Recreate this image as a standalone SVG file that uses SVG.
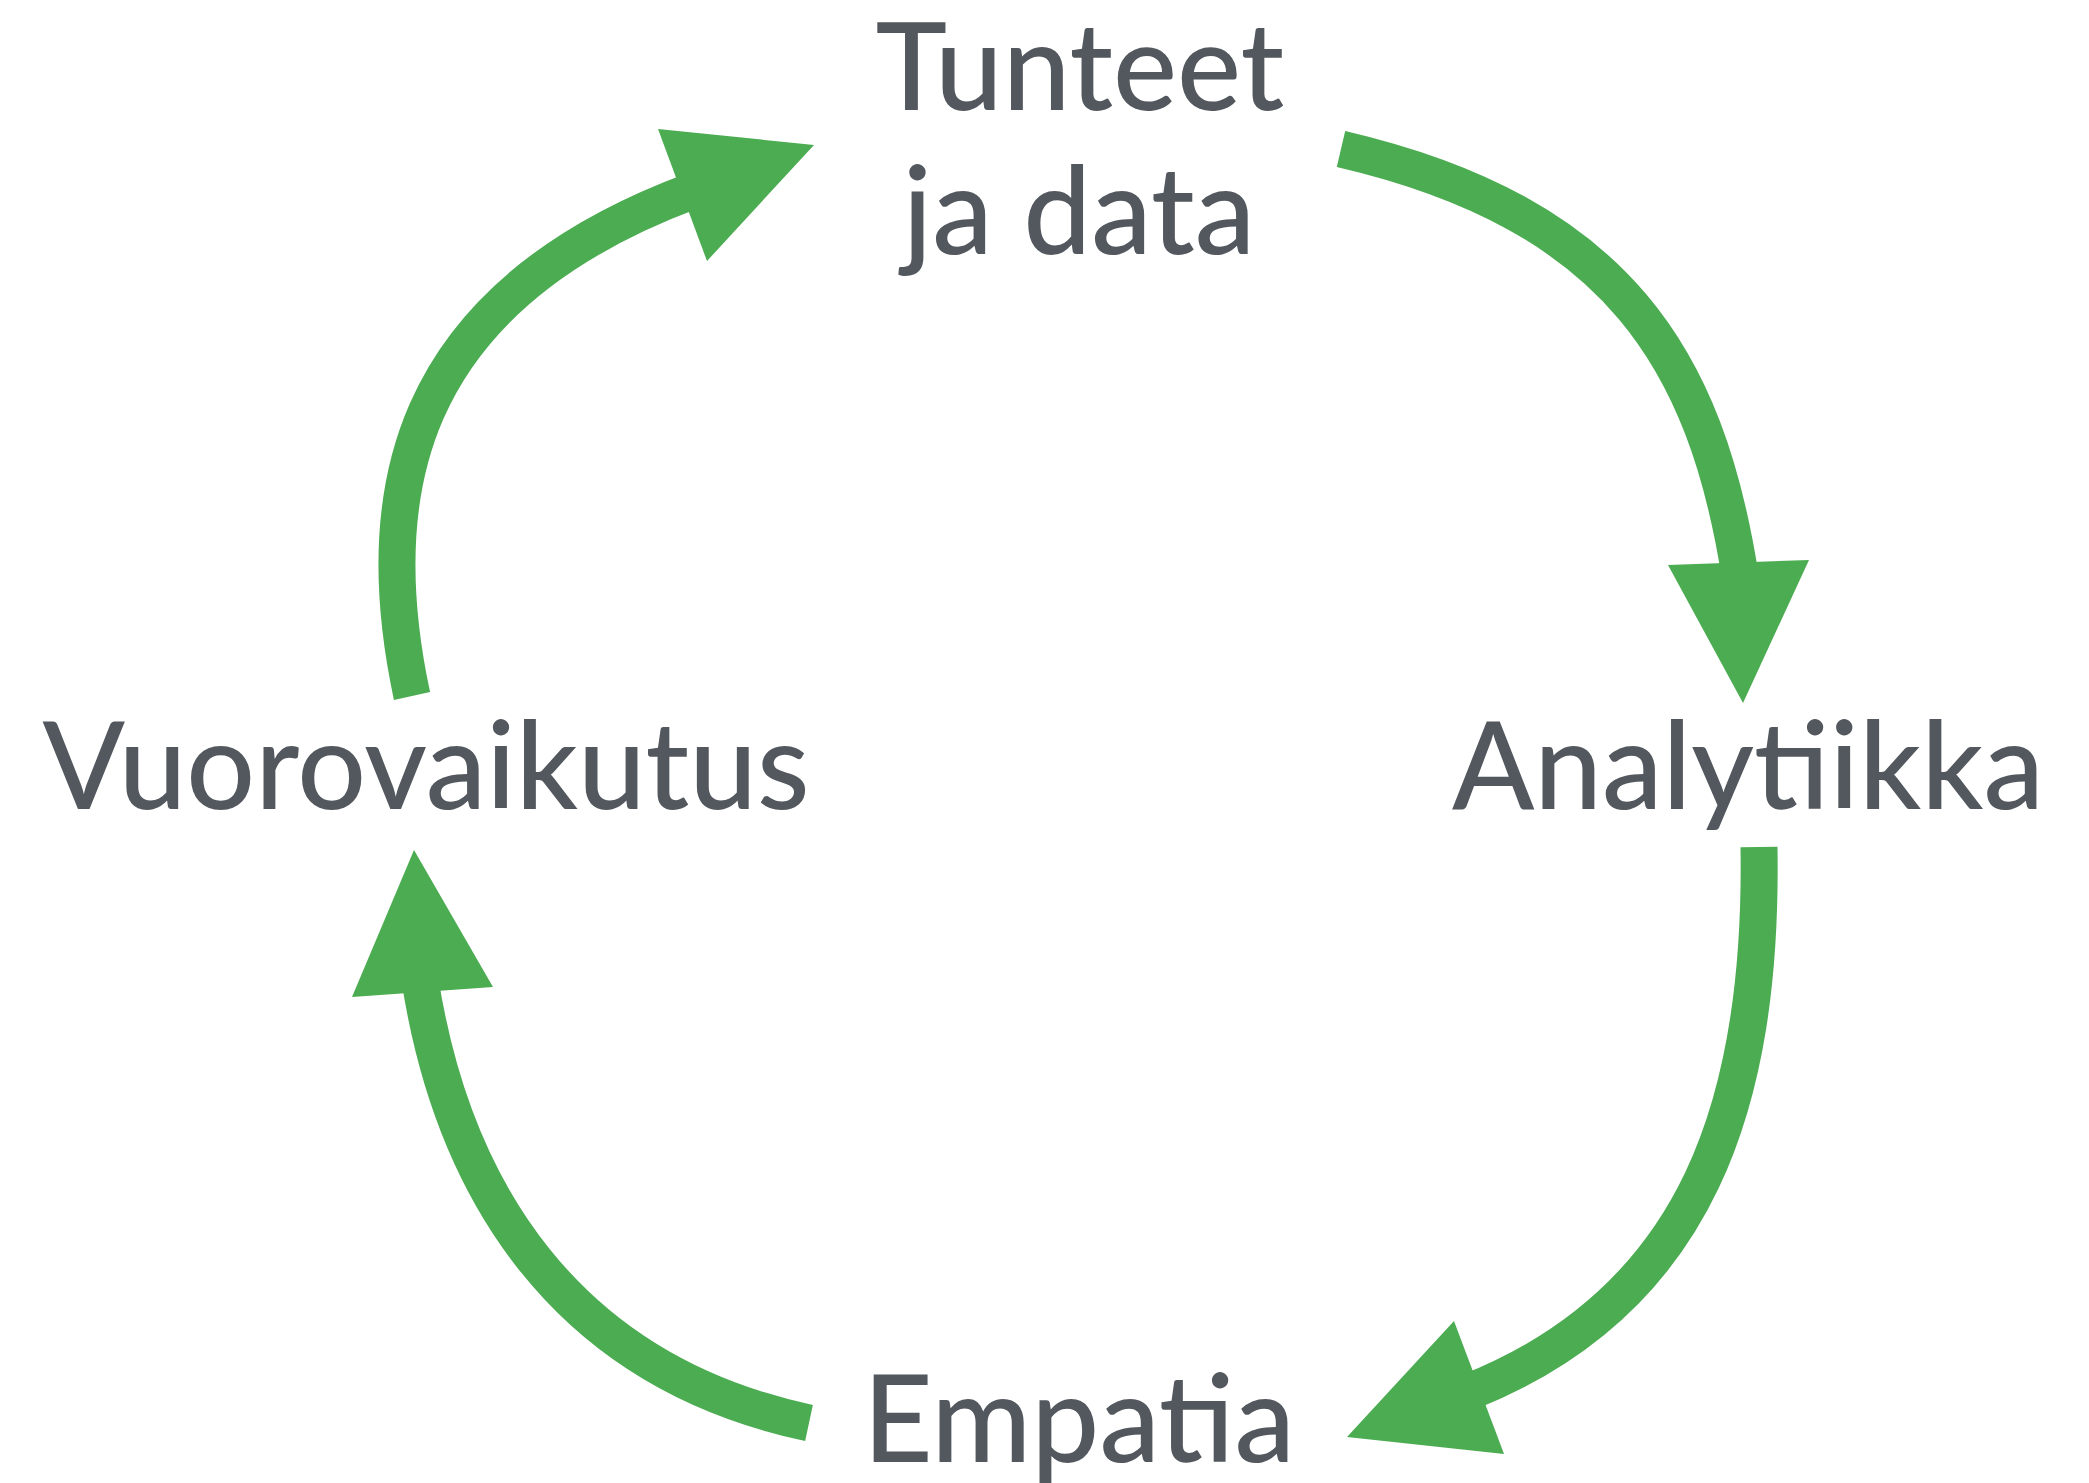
<svg xmlns="http://www.w3.org/2000/svg" width="2089" height="1483" viewBox="0 0 2089 1483">
<style>
.lbl{font-family:"Lato Medium",Lato,"Liberation Sans",sans-serif;font-size:121px;fill:#53585f;text-anchor:middle}
.arc{fill:none;stroke:#4cac52;stroke-width:37}
.head{fill:#4cac52}
</style>
<rect width="2089" height="1483" fill="#ffffff"/>
<g id="connectors">
<path class="arc" d="M412 696 C370 500 400 300 692 191"/>
<polygon class="head" points="658,129 814,145 707,261"/>
<path class="arc" d="M1341 149 C1620 214 1706 362 1740 575"/>
<polygon class="head" points="1668,565 1809,560 1743,703"/>
<path class="arc" d="M1759 847 C1763 1100 1700 1300 1469 1392"/>
<polygon class="head" points="1454,1321 1347,1437 1504,1454"/>
<path class="arc" d="M809 1423 C565 1371 453 1190 420 980"/>
<polygon class="head" points="352,997 493,987 414,850"/>
</g>
<g id="node-tunteet"><text class="lbl" x="1080" y="110">Tunteet</text><text class="lbl" x="1079" y="254">ja data</text></g>
<g id="node-analytiikka"><text class="lbl" x="1748" y="809">Analytiikka</text></g>
<g id="node-empatia"><text class="lbl" x="1079" y="1462">Empatia</text></g>
<g id="node-vuorovaikutus"><text class="lbl" x="426" y="809">Vuorovaikutus</text></g>
</svg>
